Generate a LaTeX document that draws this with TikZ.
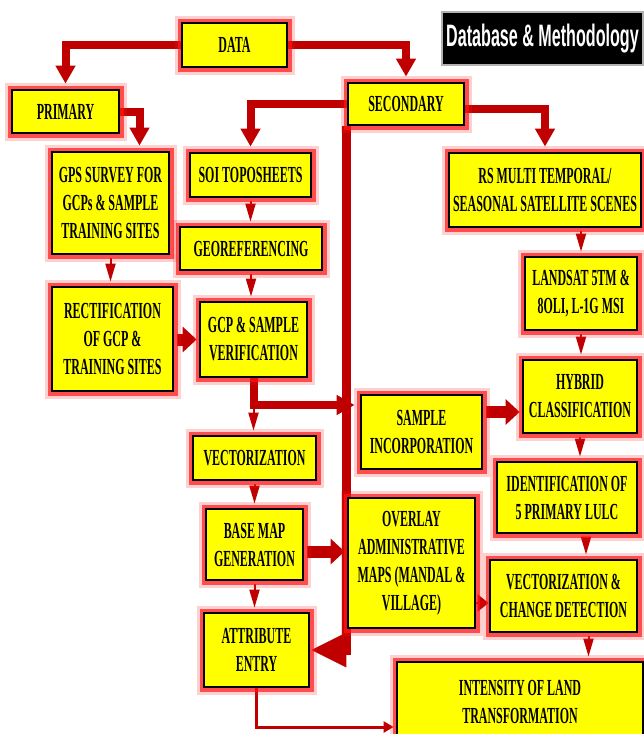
\documentclass[tikz,border=0pt]{standalone}
\usepackage{fontspec}
\newfontfamily\boxfont{Liberation Serif}[FakeStretch=0.52]
\newfontfamily\titlefont{Liberation Sans}[FakeStretch=0.52]
\usetikzlibrary{arrows.meta}
\usetikzlibrary{backgrounds}
\definecolor{boxyellow}{RGB}{255,255,0}
\definecolor{arrowred}{RGB}{192,0,0}
\definecolor{glowred}{RGB}{255,20,20}

\begin{document}
\begin{tikzpicture}[x=1pt, y=-1pt]
	\tikzset{stepbox/.style = {draw=black, line width=2.8pt, fill=boxyellow, align=center, inner sep=2pt,
			font=\boxfont\bfseries\fontsize{23}{28}\selectfont,
			preaction={draw=glowred, draw opacity=0.2, line width=15pt, rounded corners=5pt},
			preaction={draw=glowred, draw opacity=0.7, line width=9pt}}}
	\tikzset{fatedge/.style = {arrowred, line width=8pt, -{Triangle[length=18pt, width=19pt]}, shorten >=5pt}}
	\tikzset{smalledge/.style = {arrowred, line width=2pt, -{Triangle[length=18pt, width=10pt]}, shorten <=3pt, shorten >=4pt}}
	\tikzset{blockedge/.style = {arrowred, line width=12pt, -{Triangle[length=14pt, width=25pt]}, shorten <=3pt, shorten >=2pt}}
	\useasboundingbox (0,0) rectangle (643,734);
	% title
	\node[fill=black, draw=gray!60, line width=1.5pt, text=white, font=\titlefont\bfseries\fontsize{31}{31}\selectfont,
		minimum width=201pt, minimum height=53pt] (title) at (542.5,38.5) {Database \& Methodology};
	% boxes
	\node[stepbox, minimum width=105pt, minimum height=44pt] (data) at (234.5,45) {DATA};
	\node[stepbox, minimum width=107pt, minimum height=43pt] (primary) at (65.5,111.5) {PRIMARY};
	\node[stepbox, minimum width=116pt, minimum height=42pt] (secondary) at (406,104) {SECONDARY};
	\node[stepbox, minimum width=117pt, minimum height=102pt] (gps) at (110.5,203) {GPS SURVEY FOR\\GCPs \& SAMPLE\\TRAINING SITES};
	\node[stepbox, minimum width=121pt, minimum height=44pt] (soi) at (250.5,175) {SOI TOPOSHEETS};
	\node[stepbox, minimum width=192pt, minimum height=74pt] (rs) at (545,190) {RS MULTI TEMPORAL/\\SEASONAL SATELLITE SCENES};
	\node[stepbox, minimum width=142pt, minimum height=43pt] (georef) at (251,248.5) {GEOREFERENCING};
	\node[stepbox, minimum width=112pt, minimum height=73pt] (landsat) at (581,293.5) {LANDSAT 5TM \&\\8OLI, L-1G MSI};
	\node[stepbox, minimum width=121pt, minimum height=104pt] (rect) at (112.5,339) {RECTIFICATION\\OF GCP \&\\TRAINING SITES};
	\node[stepbox, minimum width=107pt, minimum height=75pt] (gcpver) at (253.5,339.5) {GCP \& SAMPLE\\VERIFICATION};
	\node[stepbox, minimum width=114pt, minimum height=73pt] (hybrid) at (580,396.5) {HYBRID\\CLASSIFICATION};
	\node[stepbox, minimum width=121pt, minimum height=74pt] (sample) at (421.5,432) {SAMPLE\\INCORPORATION};
	\node[stepbox, minimum width=123pt, minimum height=44pt] (vect) at (254.5,458) {VECTORIZATION};
	\node[stepbox, minimum width=140pt, minimum height=71pt] (ident) at (567,497.5) {IDENTIFICATION OF\\5 PRIMARY LULC};
	\node[stepbox, minimum width=97pt, minimum height=71pt] (base) at (254.5,544.5) {BASE MAP\\GENERATION};
	\node[stepbox, minimum width=127pt, minimum height=130pt] (overlay) at (411.5,563) {OVERLAY\\ADMINISTRATIVE\\MAPS (MANDAL \&\\VILLAGE)};
	\node[stepbox, minimum width=147pt, minimum height=72pt] (vcd) at (563.5,596) {VECTORIZATION \&\\CHANGE DETECTION};
	\node[stepbox, minimum width=105pt, minimum height=74pt] (attr) at (256.5,650) {ATTRIBUTE\\ENTRY};
	\node[stepbox, minimum width=246pt, minimum height=80pt] (intensity) at (520,702) {INTENSITY OF LAND\\TRANSFORMATION};
	% arrows
	\begin{scope}[on background layer]
		\draw[fatedge] (data.west) -| (primary.north);
		\draw[fatedge] (data.east) -| (secondary.north);
		\draw[fatedge] (primary.east) -| ([xshift=29pt]gps.north);
		\draw[fatedge] (secondary.west) -| (soi.north);
		\draw[fatedge] ([yshift=-5pt]secondary.east) -| (rs.north);
		\draw[smalledge] (gps.south) -- (gps.south |- rect.north);
		\draw[smalledge] (soi.south) -- (soi.south |- georef.north);
		\draw[smalledge] (georef.south) -- (georef.south |- gcpver.north);
		\draw[smalledge] (gcpver.south) -- (gcpver.south |- vect.north);
		\draw[smalledge] (vect.south) -- (vect.south |- base.north);
		\draw[smalledge] (base.south) -- (base.south |- attr.north);
		\draw[smalledge] (landsat.north |- rs.south) -- (landsat.north);
		\draw[smalledge] (landsat.south) -- (landsat.south |- hybrid.north);
		\draw[smalledge] (hybrid.south) -- (hybrid.south |- ident.north);
		\draw[smalledge] ([xshift=19pt]ident.south) -- ([xshift=19pt]ident.south |- vcd.north);
		\draw[smalledge] ([xshift=25pt]vcd.south) -- ([xshift=25pt]vcd.south |- intensity.north);
		\draw[arrowred, line width=2pt, -{Triangle[length=11pt, width=17pt]}] ([yshift=-7pt]vcd.west -| overlay.east) -- ([yshift=-7pt]vcd.west);
		\draw[blockedge] (rect.east |- gcpver.west) -- (gcpver.west);
		\draw[fatedge] (gcpver.south) |- ([yshift=27pt]sample.west);
		\draw[blockedge] ([yshift=20pt]sample.east) -- ([yshift=20pt]sample.east -| hybrid.west);
		\draw[blockedge] ([yshift=-7pt]base.east) -- ([yshift=-7pt]base.east -| overlay.west);
		\draw[arrowred, line width=9pt, -{Triangle[length=36pt, width=32pt]}] (secondary.south west) |- (attr.east);
		\draw[arrowred, line width=3pt, -{Triangle[length=10pt, width=11pt]}, shorten >=2pt] (attr.south) |- ([yshift=-25pt]intensity.west);
	\end{scope}
\end{tikzpicture}
\end{document}
